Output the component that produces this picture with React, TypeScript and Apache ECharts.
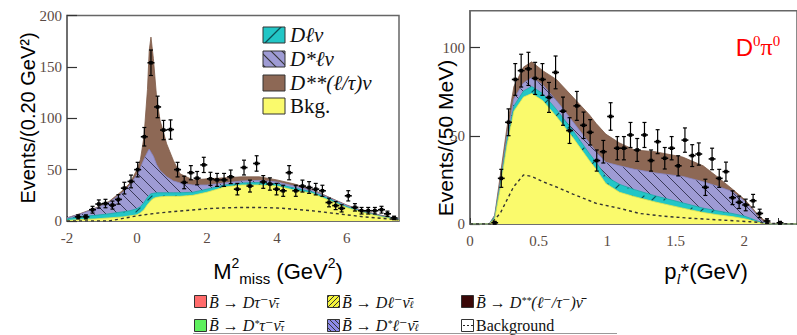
import React, { useEffect, useRef } from "react";
import * as echarts from "echarts";

// ---------- Left panel: M^2_miss ----------
const mmissDataX = [-1.68, -1.46, -1.27, -1.09, -0.9, -0.7, -0.53, -0.36, -0.17, 0.02, 0.21, 0.4, 0.59, 0.76, 0.96, 1.16, 1.35, 1.54, 1.72, 1.91, 2.1, 2.29, 2.49, 2.68, 2.87, 3.06, 3.23, 3.42, 3.61, 3.8, 3.99, 4.18, 4.35, 4.54, 4.73, 4.92, 5.11, 5.3, 5.49, 5.68, 5.85, 6.04, 6.23, 6.42, 6.61, 6.8, 6.99, 7.16, 7.35];
const mmissCounts = [4, 4, 11, 16.5, 17, 15.5, 21, 32, 38.5, 50, 82, 154, 111, 88.5, 89, 50, 37.5, 47, 41.7, 54.6, 41, 40, 40, 43, 31, 52, 34, 56, 38, 36, 31, 29.4, 47, 29.4, 34, 32.6, 31, 29.4, 18, 15, 12.3, 24.5, 13.3, 10, 10, 10, 11, 7, 3];
const mmissErrors = [2, 2, 3.3, 4, 4.1, 3.9, 4.6, 5.7, 6.2, 7.1, 9, 12.4, 10.5, 9.4, 9.4, 7.1, 6.1, 6.9, 6.5, 7.4, 6.4, 6.3, 6.3, 6.6, 5.6, 7.2, 5.8, 7.5, 6.2, 6, 5.6, 5.4, 6.9, 5.4, 5.8, 5.7, 5.6, 5.4, 4.2, 3.9, 3.5, 5, 3.6, 3.2, 3.2, 3.2, 3.3, 2.6, 1.7];

const mmissCurveX = [-2, -1.6, -1.2, -0.8, -0.4, -0.2, 0, 0.1, 0.2, 0.3, 0.35, 0.4, 0.47, 0.56, 0.66, 0.85, 1.04, 1.23, 1.6, 2.0, 2.5, 3.0, 3.5, 4.0, 4.5, 5.0, 5.5, 6.0, 6.5, 7.0, 7.49];
const mmissBkgTop = [0.5, 1.5, 2, 3, 4, 5, 6, 8, 11, 16, 18, 20, 22, 23, 23.5, 24, 24, 24, 25, 28, 33, 35, 35, 34, 30, 27, 20, 13, 8, 4, 1];
const mmissDlnuTop = [2, 4.5, 5.5, 7, 9, 10, 12, 14, 18, 23, 25, 26.5, 27, 27.5, 27.5, 27.5, 27.5, 27.5, 28, 31, 35, 37, 37.5, 36, 32, 28.5, 21.5, 14, 8.5, 4.5, 1.5];
const mmissDstarTop = [3, 7, 12, 18, 28, 35, 45, 52, 60, 67, 70, 67, 63, 55, 49, 43, 39, 37, 35, 35, 37, 39, 39.5, 38, 34, 30, 22.5, 15, 9, 5, 2];
const mmissTotal = [3, 7.5, 12.5, 19, 30, 37, 50, 60, 82, 128, 166, 179, 158, 121, 98, 75, 59, 46, 40, 41, 42, 43, 43, 40, 36, 31, 23, 15.5, 9.5, 5.5, 2];
const mmissDashX = [-2, -0.8, -0.4, 0, 0.3, 0.66, 1.0, 1.5, 2.0, 2.5, 3.0, 3.5, 4.0, 4.5, 5.0, 5.5, 6.0, 6.5, 7.0, 7.49];
const mmissDash = [0, 0, 2.5, 5, 6.5, 8, 9, 10.5, 12, 12.8, 13.2, 13.2, 12.7, 11.5, 10, 8, 6, 4, 2.6, 1];

// ---------- Right panel: p_l* ----------
const plDataX = [0.18, 0.228, 0.281, 0.33, 0.373, 0.426, 0.475, 0.528, 0.576, 0.624, 0.678, 0.726, 0.779, 0.828, 0.876, 0.924, 0.972, 1.025, 1.074, 1.122, 1.17, 1.219, 1.272, 1.32, 1.368, 1.42, 1.47, 1.518, 1.567, 1.62, 1.668, 1.716, 1.765, 1.817, 1.866, 1.914, 1.962, 2.01, 2.064, 2.112, 2.165, 2.26];
const plCounts = [0.7, 25.9, 57.7, 82, 87, 88, 82.6, 82, 71.8, 86, 64, 53, 67, 56, 52, 36, 41, 61, 43, 43, 50.5, 42, 50.5, 36, 46.7, 37.3, 43, 33, 47.6, 38.8, 39.7, 20.8, 36.9, 25.9, 29.7, 14.9, 12.3, 10.8, 13.2, 6, 1.7, 0.7];
const plErrors = [0.8, 5.1, 7.6, 9, 9.3, 9.4, 9.1, 9, 8.5, 9.3, 8, 7.3, 8.2, 7.5, 7.2, 6, 6.4, 7.8, 6.6, 6.6, 7.1, 6.5, 7.1, 6, 6.8, 6.1, 6.6, 5.7, 6.9, 6.2, 6.3, 4.6, 6.1, 5.1, 5.4, 3.9, 3.5, 3.3, 3.6, 2.4, 1.3, 0.8];

const plCurveX = [0, 0.14, 0.18, 0.22, 0.27, 0.32, 0.39, 0.45, 0.53, 0.63, 0.75, 0.87, 0.92, 0.99, 1.09, 1.2, 1.35, 1.55, 1.7, 1.8, 1.91, 2.0, 2.06, 2.1, 2.14, 2.2, 2.384];
const plBkgTop = [0, 0, 3, 20, 45, 64, 72, 74, 70, 61, 49, 36, 31, 23, 18, 15.5, 12.5, 9, 6.5, 5.3, 4.2, 3, 1.8, 1, 0.3, 0, 0];
const plDlnuTop = [0, 0, 4, 22, 48, 67, 75.5, 78, 74, 65, 53, 40, 35, 27, 22.5, 19.5, 16, 12, 9, 7.5, 6, 4.5, 2.8, 1.5, 0.5, 0, 0];
const plDstarTop = [0, 0, 4.5, 23, 50, 71, 80, 83, 79, 70, 58, 46, 41, 35, 33, 31, 29, 27, 24, 21.5, 18.5, 13, 8, 4, 1.2, 0, 0];
const plTotal = [0, 0, 5, 27, 55, 78, 89, 92, 87, 82, 72, 62, 57, 51, 46, 42, 41, 38, 33, 27, 20, 14, 9, 5, 2.5, 0.3, 0];
const plDashX = [0, 0.15, 0.22, 0.317, 0.39, 0.45, 0.53, 0.63, 0.75, 0.92, 1.09, 1.235, 1.4, 1.6, 1.8, 2.04, 2.2, 2.384];
const plDash = [0, 0, 6, 21, 27.8, 27, 24, 21, 17, 11.7, 8.9, 6, 4.5, 3.3, 2.4, 1.3, 0.3, 0];

const YELLOW = "#fafa6c";
const TEAL = "#22c6c6";
const LAV = "#9e9bd4";
const BROWN = "#8d6855";
const TICK = "#5a4a44";

function hatch(bg: string, fg: string, dir: "back" | "fwd", size: number, lw: number, partial = false) {
  const c = document.createElement("canvas");
  c.width = size;
  c.height = size;
  const ctx = c.getContext("2d")!;
  ctx.fillStyle = bg;
  ctx.fillRect(0, 0, size, size);
  ctx.strokeStyle = fg;
  ctx.lineWidth = lw;
  ctx.beginPath();
  if (partial) {
    ctx.moveTo(size * 0.3, size * 0.7);
    ctx.lineTo(size * 0.7, size * 0.3);
  } else if (dir === "back") {
    ctx.moveTo(-1, -1);
    ctx.lineTo(size + 1, size + 1);
    ctx.moveTo(-1, size - 1);
    ctx.lineTo(1, size + 1);
    ctx.moveTo(size - 1, -1);
    ctx.lineTo(size + 1, 1);
  } else {
    ctx.moveTo(-1, size + 1);
    ctx.lineTo(size + 1, -1);
    ctx.moveTo(-1, 1);
    ctx.lineTo(1, -1);
    ctx.moveTo(size - 1, size + 1);
    ctx.lineTo(size + 1, size - 1);
  }
  ctx.stroke();
  return { image: c, repeat: "repeat", imageWidth: size, imageHeight: size } as any;
}

const pairs = (xs: number[], ys: number[]) => xs.map((x, i) => [x, ys[i]]);

export default function App() {
  const ref = useRef<HTMLDivElement>(null);
  useEffect(() => {
    const chart = echarts.init(ref.current!, null, { renderer: "svg" });
    const lavPat = hatch(LAV, "#3a3a5a", "back", 12, 1);
    const tealPat = hatch(TEAL, "#0b4f55", "fwd", 12, 1.2, true);
    const yelPat = hatch("#f4f43a", "#333", "fwd", 5, 1);
    const bluePat = hatch("#8c8ae8", "#333", "back", 5, 1);

    const area = (xi: number, xs: number[], ys: number[], fill: any, line: string) => ({
      type: "line",
      xAxisIndex: xi,
      yAxisIndex: xi,
      data: pairs(xs, ys),
      symbol: "none",
      silent: true,
      lineStyle: { width: 0.8, color: line },
      areaStyle: { color: fill, opacity: 1 },
      z: 2,
    });
    const dash = (xi: number, xs: number[], ys: number[]) => ({
      type: "line",
      xAxisIndex: xi,
      yAxisIndex: xi,
      data: pairs(xs, ys),
      symbol: "none",
      silent: true,
      lineStyle: { width: 1.4, color: "#333", type: [3, 3] },
      z: 3,
    });
    const points = (xi: number, xs: number[], ys: number[], es: number[], hw: number) => ({
      type: "custom",
      xAxisIndex: xi,
      yAxisIndex: xi,
      data: xs.map((x, i) => [x, ys[i], es[i]]),
      encode: { x: 0, y: 1 },
      z: 5,
      silent: true,
      renderItem: (_p: any, api: any) => {
        const x = api.value(0);
        const y = api.value(1);
        const e = api.value(2);
        const c = api.coord([x, y]);
        const t = api.coord([x, y + e]);
        const b = api.coord([x, Math.max(0, y - e)]);
        const l = api.coord([x - hw, y]);
        const r = api.coord([x + hw, y]);
        const st = { stroke: "#000", lineWidth: 1.2 };
        return {
          type: "group",
          children: [
            { type: "line", shape: { x1: c[0], y1: t[1], x2: c[0], y2: b[1] }, style: st },
            { type: "line", shape: { x1: c[0] - 2, y1: t[1], x2: c[0] + 2, y2: t[1] }, style: st },
            { type: "line", shape: { x1: c[0] - 2, y1: b[1], x2: c[0] + 2, y2: b[1] }, style: st },
            { type: "line", shape: { x1: l[0], y1: c[1], x2: r[0], y2: c[1] }, style: { stroke: "#000", lineWidth: 1.6 } },
            { type: "rect", shape: { x: c[0] - 1.8, y: c[1] - 1.8, width: 3.6, height: 3.6 }, style: { fill: "#000" } },
          ],
        };
      },
    });

    const axisCommon = {
      axisLine: { onZero: false, lineStyle: { color: "#666", width: 1.5 } },
      splitLine: { show: false },
    };
    const labelStyle = { color: TICK, fontFamily: "'Liberation Serif', 'DejaVu Serif', serif", fontSize: 15 };

    const ser = "'Liberation Serif', 'DejaVu Serif', serif";
    const sans = "'Liberation Sans', Arial, sans-serif";
    const legRich = {
      i: { fontFamily: ser, fontStyle: "italic", fontSize: 16, lineHeight: 14, fill: "#111" },
      n: { fontFamily: ser, fontSize: 16, lineHeight: 14, fill: "#111" },
      s: { fontFamily: ser, fontStyle: "italic", fontSize: 10, lineHeight: 8, verticalAlign: "bottom", fill: "#111" },
      u: { fontFamily: ser, fontStyle: "italic", fontSize: 10, lineHeight: 8, verticalAlign: "top", fill: "#111" },
    };
    const legText = (x: number, y: number, text: string) => ({
      type: "text",
      x,
      y,
      style: { text, rich: legRich, align: "left", verticalAlign: "middle" },
    });
    const box = (x: number, y: number, w: number, h: number, fill: any) => ({
      type: "rect",
      shape: { x, y, width: w, height: h },
      style: { fill, stroke: "#333", lineWidth: 1 },
    });

    const innerRich = {
      t: { fontFamily: ser, fontStyle: "italic", fontSize: 21, fill: "#111" },
      n: { fontFamily: ser, fontSize: 21, fill: "#111" },
    };

    const option: any = {
      animation: false,
      grid: [
        { left: 67, top: 15.5, width: 332, height: 205.5, show: true, borderColor: "#666", borderWidth: 1.5, backgroundColor: "transparent" },
        { left: 470, top: 10.7, width: 329, height: 213.3, show: true, borderColor: "#666", borderWidth: 1.5, backgroundColor: "transparent" },
      ],
      xAxis: [
        {
          type: "value", gridIndex: 0, min: -2, max: 7.49, interval: 1, ...axisCommon,
          axisTick: { inside: true, length: 5, lineStyle: { color: "#333" } },
          axisLabel: { ...labelStyle, margin: 9, showMaxLabel: false, formatter: (v: number) => (Math.round(v) % 2 === 0 ? String(v) : "") },
        },
        {
          type: "value", gridIndex: 1, min: 0, max: 2.384, interval: 0.25, ...axisCommon,
          axisTick: { inside: true, length: 6, lineStyle: { color: "#333" } },
          axisLabel: { ...labelStyle, margin: 9, showMaxLabel: false, formatter: (v: number) => (Math.abs(v * 2 - Math.round(v * 2)) < 1e-6 ? String(v) : "") },
        },
      ],
      yAxis: [
        {
          type: "value", gridIndex: 0, min: 0, max: 200, interval: 50, ...axisCommon,
          axisTick: { inside: true, length: 10, lineStyle: { color: "#333", width: 1.2 } },
          axisLabel: { ...labelStyle, margin: 5 },
        },
        {
          type: "value", gridIndex: 1, min: 0, max: 121, interval: 50, ...axisCommon,
          axisTick: { inside: true, length: 10, lineStyle: { color: "#333", width: 1.2 } },
          axisLabel: { ...labelStyle, margin: 5, showMaxLabel: false },
        },
      ],
      series: [
        area(0, mmissCurveX, mmissTotal, BROWN, "#7d5a48"),
        area(0, mmissCurveX, mmissDstarTop, lavPat, "#8a88c8"),
        area(0, mmissCurveX, mmissDlnuTop, tealPat, "#1aa8a8"),
        area(0, mmissCurveX, mmissBkgTop, YELLOW, "#e6e650"),
        dash(0, mmissDashX, mmissDash),
        points(0, mmissDataX, mmissCounts, mmissErrors, 0.1),
        area(1, plCurveX, plTotal, BROWN, "#7d5a48"),
        area(1, plCurveX, plDstarTop, lavPat, "#8a88c8"),
        area(1, plCurveX, plDlnuTop, tealPat, "#1aa8a8"),
        area(1, plCurveX, plBkgTop, YELLOW, "#e6e650"),
        dash(1, plDashX, plDash),
        points(1, plDataX, plCounts, plErrors, 0.025),
      ],
      graphic: [
        // y-axis titles
        { type: "text", x: 28, y: 118, rotation: Math.PI / 2, style: { text: "Events/(0.20 GeV²)", font: `20px ${sans}`, fill: "#000", align: "center", verticalAlign: "middle" } },
        { type: "text", x: 445, y: 138, rotation: Math.PI / 2, style: { text: "Events/(50 MeV)", font: `21px ${sans}`, fill: "#000", align: "center", verticalAlign: "middle" } },
        // x-axis titles
        {
          type: "text", x: 278, y: 271,
          style: {
            text: "{m|M}{p|2}{s|miss}{m| (GeV}{p|2}{m|)}", align: "center", verticalAlign: "middle",
            rich: {
              m: { fontFamily: sans, fontSize: 22, lineHeight: 30, fill: "#000" },
              p: { fontFamily: sans, fontSize: 14, lineHeight: 14, verticalAlign: "top", fill: "#000" },
              s: { fontFamily: sans, fontSize: 15, lineHeight: 14, verticalAlign: "bottom", fill: "#000" },
            },
          },
        },
        {
          type: "text", x: 706, y: 271,
          style: {
            text: "{m|p}{s|l}{m|*(GeV)}", align: "center", verticalAlign: "middle",
            rich: {
              m: { fontFamily: sans, fontSize: 22, lineHeight: 30, fill: "#000" },
              s: { fontFamily: ser, fontStyle: "italic", fontSize: 15, lineHeight: 14, verticalAlign: "bottom", fill: "#000" },
            },
          },
        },
        // D0 pi0 label
        {
          type: "text", x: 758, y: 47,
          style: {
            text: "{d|D}{s|0}{p|π}{s|0}", align: "center", verticalAlign: "middle",
            rich: {
              d: { fontFamily: sans, fontSize: 24, lineHeight: 28, fill: "#ff0000" },
              p: { fontFamily: ser, fontSize: 24, lineHeight: 28, fill: "#ff0000" },
              s: { fontFamily: ser, fontSize: 15, lineHeight: 15, verticalAlign: "top", fill: "#ff0000" },
            },
          },
        },
        // inner legend (left panel)
        box(263, 27, 22, 16, hatch(TEAL, "#0b4f55", "fwd", 22, 1.3)),
        box(263, 51, 22, 16, hatch(LAV, "#333", "back", 11, 1.1)),
        box(263, 75, 22, 16, BROWN),
        box(263, 98, 22, 16, YELLOW),
        { type: "text", x: 290, y: 35, style: { text: "{t|Dℓν}", rich: innerRich, verticalAlign: "middle" } },
        { type: "text", x: 290, y: 59, style: { text: "{t|D*ℓν}", rich: innerRich, verticalAlign: "middle" } },
        { type: "text", x: 290, y: 83, style: { text: "{t|D**(ℓ/τ)ν}", rich: innerRich, verticalAlign: "middle" } },
        { type: "text", x: 290, y: 106, style: { text: "{n|Bkg.}", rich: innerRich, verticalAlign: "middle" } },
        // bottom legend
        box(194.5, 295.5, 12, 12, "#ff6b6b"),
        box(327.5, 295.5, 12, 12, yelPat),
        box(461.5, 295.5, 12, 12, "#3a0808"),
        box(194.5, 319.5, 12, 12, "#5ef05e"),
        box(327.5, 319.5, 12, 12, bluePat),
        box(461.5, 319.5, 12, 12, "#ffffff"),
        { type: "line", shape: { x1: 463, y1: 325.5, x2: 473, y2: 325.5 }, style: { stroke: "#222", lineWidth: 1, lineDash: [2, 2] } },
        legText(209, 302, "{i|B̄}{n| → }{i|Dτ⁻ν̄}{s|τ}"),
        legText(342, 302, "{i|B̄}{n| → }{i|Dℓ⁻ν̄}{s|ℓ}"),
        legText(476, 302, "{i|B̄}{n| → }{i|D}{u|**}{i|(ℓ⁻/τ⁻)ν̄}"),
        legText(209, 325, "{i|B̄}{n| → }{i|D}{u|*}{i|τ⁻ν̄}{s|τ}"),
        legText(342, 325, "{i|B̄}{n| → }{i|D}{u|*}{i|ℓ⁻ν̄}{s|ℓ}"),
        legText(476, 325, "{n|Background}"),
        { type: "line", shape: { x1: 193, y1: 333.5, x2: 617, y2: 333.5 }, style: { stroke: "#999", lineWidth: 1 } },
      ],
    };
    chart.setOption(option);
    return () => chart.dispose();
  }, []);
  return <div ref={ref} style={{ position: "absolute", left: 0, top: 0, width: 797, height: 335 }} />;
}
